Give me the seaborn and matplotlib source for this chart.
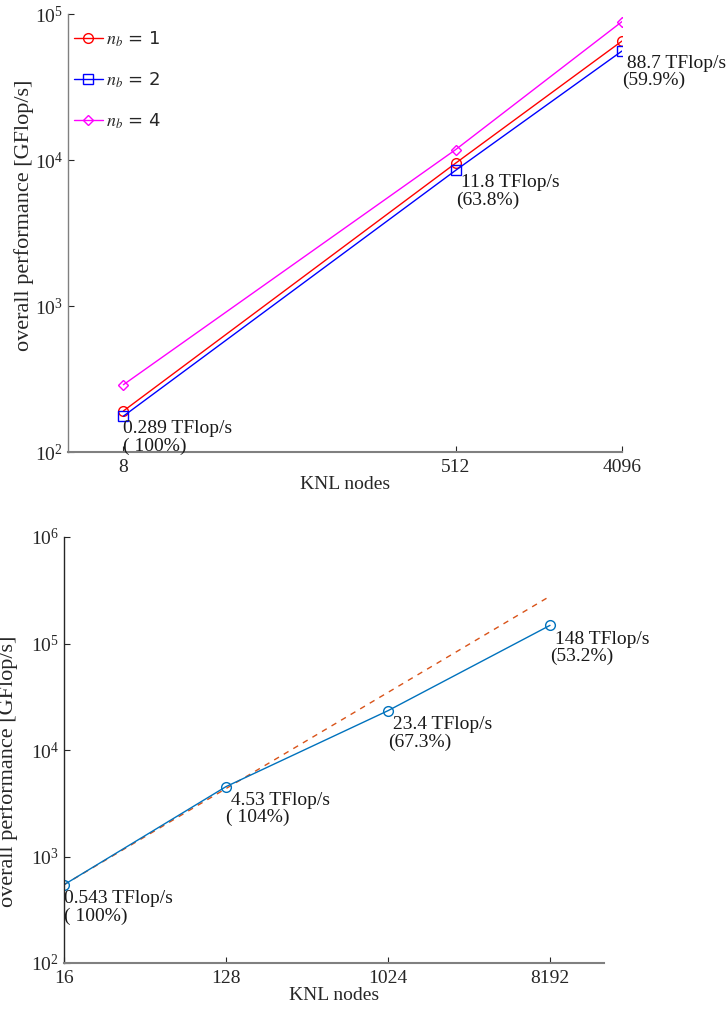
import matplotlib
matplotlib.use("Agg")
import matplotlib.pyplot as plt
import seaborn as sns
import numpy as np
import pandas as pd

# ---- data ----
nodes_top = [8, 512, 4096]
perf_nb1 = [191, 9530, 65300]
perf_nb2 = [176, 8510, 55800]
perf_nb4 = [289, 11800, 88700]
labels_top = ["0.289 TFlop/s\n( 100%)", " 11.8 TFlop/s\n(63.8%)", " 88.7 TFlop/s\n(59.9%)"]

nodes_bot = [16, 128, 1024, 8192]
perf_bot = [543, 4530, 23400, 148000]
labels_bot = ["0.543 TFlop/s\n( 100%)", " 4.53 TFlop/s\n( 104%)",
              " 23.4 TFlop/s\n(67.3%)", " 148 TFlop/s\n(53.2%)"]

sns.set_theme(style="ticks")
plt.rcParams['font.family'] = ['Liberation Serif', 'DejaVu Serif']
plt.rcParams['mathtext.fontset'] = 'stix'
plt.rcParams['font.size'] = 14

fig = plt.figure(figsize=(7.26, 10.11), dpi=100)
ax1 = fig.add_axes([68 / 726, 1 - 452 / 1011, 554 / 726, 438 / 1011])
ax2 = fig.add_axes([64 / 726, 1 - 963 / 1011, 540 / 726, 426 / 1011])

# ---- top panel ----
series = [("$n_b$ = 1", perf_nb1, "#FF0000", "o", 7),
          ("$n_b$ = 2", perf_nb2, "#0000FF", "s", 7),
          ("$n_b$ = 4", perf_nb4, "#FF00FF", "D", 5)]
for name, vals, col, mk, ms in series:
    sns.lineplot(x=nodes_top, y=vals, ax=ax1, color=col, marker=mk, markersize=ms,
                 markerfacecolor='none', markeredgecolor=col, markeredgewidth=1.0,
                 linewidth=1.0, label=name)

for x, y, t in zip(nodes_top, perf_nb2, labels_top):
    ax1.annotate(t, (x, y), xytext=(0, -3), textcoords='offset points',
                 ha='left', va='top', fontsize=14, color='#1a1a1a', linespacing=1.0)

ax1.set_xscale('log', base=2)
ax1.set_yscale('log')
ax1.set_xlim(4, 4096)
ax1.set_ylim(1e2, 1e5)
ax1.set_xticks(nodes_top)
ax1.set_xticklabels([str(n) for n in nodes_top])
ax1.set_yticks([1e2, 1e3, 1e4, 1e5])
ax1.minorticks_off()
ax1.set_xlabel("KNL nodes", fontsize=14)
ax1.set_ylabel("overall performance [GFlop/s]", fontsize=16)
ax1.yaxis.set_label_coords(-0.062, 0.54)
leg = ax1.legend(loc='upper left', bbox_to_anchor=(-0.004, 0.984), frameon=False,
                 handlelength=1.6, handletextpad=0.2, labelspacing=1.2,
                 borderaxespad=0.25, borderpad=0.2,
                 prop={'family': 'DejaVu Sans', 'size': 13})

# ---- bottom panel ----
ideal = [perf_bot[0] * n / nodes_bot[0] for n in nodes_bot]
sns.lineplot(x=nodes_bot, y=ideal, ax=ax2, color='#D95319', linewidth=1.0,
             linestyle=(0, (4, 4)))
sns.lineplot(x=nodes_bot, y=perf_bot, ax=ax2, color='#0072BD', marker='o', markersize=7,
             markerfacecolor='none', markeredgecolor='#0072BD', markeredgewidth=1.0,
             linewidth=1.0)
for x, y, t in zip(nodes_bot, perf_bot, labels_bot):
    ax2.annotate(t, (x, y), xytext=(0, -4), textcoords='offset points',
                 ha='left', va='top', fontsize=14, color='#1a1a1a', linespacing=1.0)

ax2.set_xscale('log', base=2)
ax2.set_yscale('log')
ax2.set_xlim(16, 16384)
ax2.set_ylim(1e2, 1e6)
ax2.set_xticks(nodes_bot)
ax2.set_xticklabels([str(n) for n in nodes_bot])
ax2.set_yticks([1e2, 1e3, 1e4, 1e5, 1e6])
ax2.minorticks_off()
ax2.set_xlabel("KNL nodes", fontsize=14)
ax2.set_ylabel("overall performance [GFlop/s]", fontsize=16)
ax2.yaxis.set_label_coords(-0.085, 0.45)

for ax in (ax1, ax2):
    sns.despine(ax=ax)
    ax.tick_params(direction='in', length=4, width=0.8, labelsize=14, colors='#262626')
    ax.tick_params(axis='x', pad=5)
    ax.spines['bottom'].set_color('#808080')
    ax.spines['bottom'].set_linewidth(1.5)
    ax.spines['left'].set_linewidth(1.0)
    ax.xaxis.labelpad = 0
ax1.spines['left'].set_color('#808080')
ax2.spines['left'].set_color('#262626')

fig.savefig("out.png", dpi=100)
